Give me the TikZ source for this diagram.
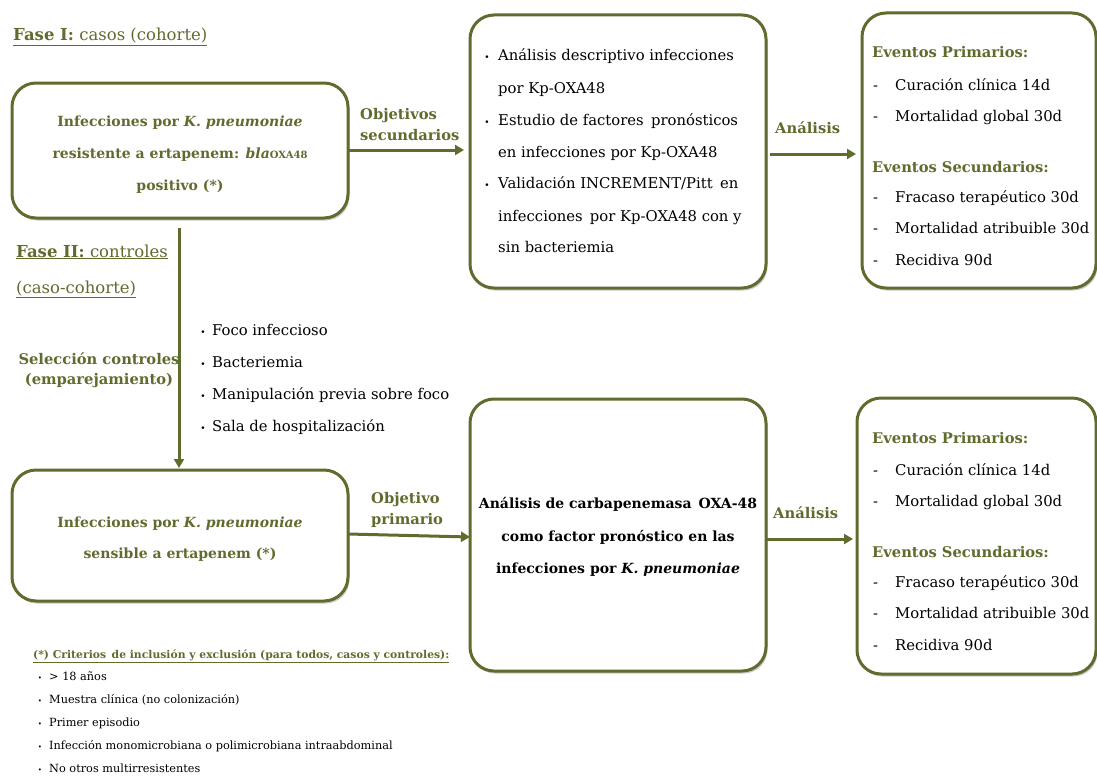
\documentclass[tikz,border=0pt]{standalone}
\usepackage{fontspec}
\setmainfont{DejaVu Serif}
\usetikzlibrary{arrows.meta,shadows}
\definecolor{olv}{RGB}{94,108,46}
\begin{document}
\begin{tikzpicture}[x=1pt,y=-1pt,
  box/.style={draw=olv, line width=3pt, rounded corners=24pt, fill=white,
    inner sep=0pt, outer sep=0pt,
    drop shadow={shadow xshift=1.5pt, shadow yshift=-2.5pt, opacity=0.22, fill=black}},
  conn/.style={draw=olv, line width=3pt, -{Triangle[length=9pt,width=10pt]}},
  tx/.style={font=\fontsize{14.8}{17}\selectfont, anchor=base west, inner sep=0pt, text=black},
  lbl/.style={font=\fontsize{14.7}{17}\selectfont\bfseries, anchor=base west, inner sep=0pt, text=olv},
  bt/.style={font=\fontsize{14}{17}\selectfont\bfseries, anchor=base, inner sep=0pt, text=olv},
  hd/.style={font=\fontsize{16.5}{19}\selectfont, anchor=base west, inner sep=0pt, text=olv},
  sm/.style={font=\fontsize{11.3}{13}\selectfont, anchor=base west, inner sep=0pt, text=black},
  smh/.style={font=\fontsize{10.8}{13}\selectfont\bfseries, anchor=base west, inner sep=0pt, text=olv},
  bul/.style={font=\fontsize{9}{10}\selectfont, anchor=base, inner sep=0pt, text=black},
  sbul/.style={font=\fontsize{7}{8}\selectfont, anchor=base, inner sep=0pt, text=black},
]
\useasboundingbox (0,0) rectangle (1097,776);

% boxes
\node[box, minimum width=336pt, minimum height=135pt] (A) at (180,150.5) {};
\node[box, minimum width=296pt, minimum height=273pt] (B) at (618,151.5) {};
\node[box, minimum width=234pt, minimum height=275pt] (C) at (979,150.5) {};
\node[box, minimum width=336pt, minimum height=131pt] (D) at (180,535.5) {};
\node[box, minimum width=296pt, minimum height=272pt] (E) at (618,535) {};
\node[box, minimum width=239pt, minimum height=276pt] (F) at (976.5,536) {};

% headings
\node[hd] (h1) at (13,41) {\underline{\textbf{Fase I:} casos (cohorte)}};
\node[hd] (h2) at (16,257) {\underline{\textbf{Fase II:} controles}};
\node[hd] (h3) at (16,293) {\underline{(caso-cohorte)}};

% box A text
\node[bt] (a1) at (180,126) {Infecciones por \textit{K. pneumoniae}};
\node[bt] (a2) at (180,158) {resistente a ertapenem: \textit{bla}{\fontsize{10}{10}\selectfont OXA48}};
\node[bt] (a3) at (180,190) {positivo (*)};

% box D text
\node[bt] (d1) at (180,527) {Infecciones por \textit{K. pneumoniae}};
\node[bt] (d2) at (180,558) {sensible a ertapenem (*)};

% box E text
\node[bt, text=black] (e1) at (618,508) {Análisis de carbapenemasa\enspace OXA-48};
\node[bt, text=black] (e2) at (618,541) {como factor pronóstico en las};
\node[bt, text=black] (e3) at (618,573) {infecciones por \textit{K. pneumoniae}};

% box B text
\node[bul] (bb1) at (487,61) {•};
\node[tx] (b1) at (498,61) {Análisis descriptivo infecciones};
\node[tx] (b2) at (498,93) {por Kp-OXA48};
\node[bul] (bb3) at (487,125) {•};
\node[tx] (b3) at (498,125) {Estudio de factores\enspace pronósticos};
\node[tx] (b4) at (498,157) {en infecciones por Kp-OXA48};
\node[bul] (bb5) at (487,188) {•};
\node[tx] (b5) at (498,188) {Validación INCREMENT/Pitt\enspace en};
\node[tx] (b6) at (498,221) {infecciones\, por Kp-OXA48 con y};
\node[tx] (b7) at (498,252) {sin bacteriemia};

% box C text
\node[lbl] (c0) at (872,58) {Eventos Primarios:};
\node[tx] (cd1) at (873,90) {-};
\node[tx] (c1) at (895,90) {Curación clínica 14d};
\node[tx] (cd2) at (873,121) {-};
\node[tx] (c2) at (895,121) {Mortalidad global 30d};
\node[lbl] (c3) at (872,172) {Eventos Secundarios:};
\node[tx] (cd4) at (873,202) {-};
\node[tx] (c4) at (895,202) {Fracaso terapéutico 30d};
\node[tx] (cd5) at (873,233) {-};
\node[tx] (c5) at (895,233) {Mortalidad atribuible 30d};
\node[tx] (cd6) at (873,265) {-};
\node[tx] (c6) at (895,265) {Recidiva 90d};

% box F text
\node[lbl] (f0) at (872,443) {Eventos Primarios:};
\node[tx] (fd1) at (873,475) {-};
\node[tx] (f1) at (895,475) {Curación clínica 14d};
\node[tx] (fd2) at (873,506) {-};
\node[tx] (f2) at (895,506) {Mortalidad global 30d};
\node[lbl] (f3) at (872,557) {Eventos Secundarios:};
\node[tx] (fd4) at (873,587) {-};
\node[tx] (f4) at (895,587) {Fracaso terapéutico 30d};
\node[tx] (fd5) at (873,618) {-};
\node[tx] (f5) at (895,618) {Mortalidad atribuible 30d};
\node[tx] (fd6) at (873,650) {-};
\node[tx] (f6) at (895,650) {Recidiva 90d};

% connectors
\draw[conn, shorten >=6pt] (A.east |- 0,150) -- (B.west |- 0,150);
\draw[conn, shorten <=4pt, shorten >=6pt] (B.east |- 0,154) -- (C.west |- 0,154);
\coordinate (vs) at (179,228);
\draw[conn, shorten >=2pt] (vs) -- (vs |- D.north);
\draw[conn, shorten >=0pt] (D.east |- 0,534) -- (E.west |- 0,537);
\draw[conn, shorten <=1pt, shorten >=4pt] (E.east |- 0,539) -- (F.west |- 0,539);

% connector labels
\node[lbl] (o1) at (360,119) {Objetivos};
\node[lbl] (o2) at (360,140) {secundarios};
\node[lbl] (an1) at (775,133) {Análisis};
\node[lbl, anchor=base] (s1) at (99,364) {Selección controles};
\node[lbl, anchor=base] (s2) at (99,384) {(emparejamiento)};
\node[lbl] (p1) at (371,503) {Objetivo};
\node[lbl] (p2) at (371,524) {primario};
\node[lbl] (an2) at (773,518) {Análisis};

% matching criteria
\node[bul] (mb1) at (203,335) {•};
\node[tx] (m1) at (212,335) {Foco infeccioso};
\node[bul] (mb2) at (203,367) {•};
\node[tx] (m2) at (212,367) {Bacteriemia};
\node[bul] (mb3) at (203,399) {•};
\node[tx] (m3) at (212,399) {Manipulación previa sobre foco};
\node[bul] (mb4) at (203,431) {•};
\node[tx] (m4) at (212,431) {Sala de hospitalización};

% footnote
\node[smh] (n0) at (33,658) {\underline{(*) Criterios\, de inclusión y exclusión (para todos, casos y controles):}};
\node[sbul] (nb1) at (40,680) {•};
\node[sm] (n1) at (49,680) {> 18 años};
\node[sbul] (nb2) at (40,703) {•};
\node[sm] (n2) at (49,703) {Muestra clínica (no colonización)};
\node[sbul] (nb3) at (40,726) {•};
\node[sm] (n3) at (49,726) {Primer episodio};
\node[sbul] (nb4) at (40,749) {•};
\node[sm] (n4) at (49,749) {Infección monomicrobiana o polimicrobiana intraabdominal};
\node[sbul] (nb5) at (40,772) {•};
\node[sm] (n5) at (49,772) {No otros multirresistentes};
\end{tikzpicture}
\end{document}
